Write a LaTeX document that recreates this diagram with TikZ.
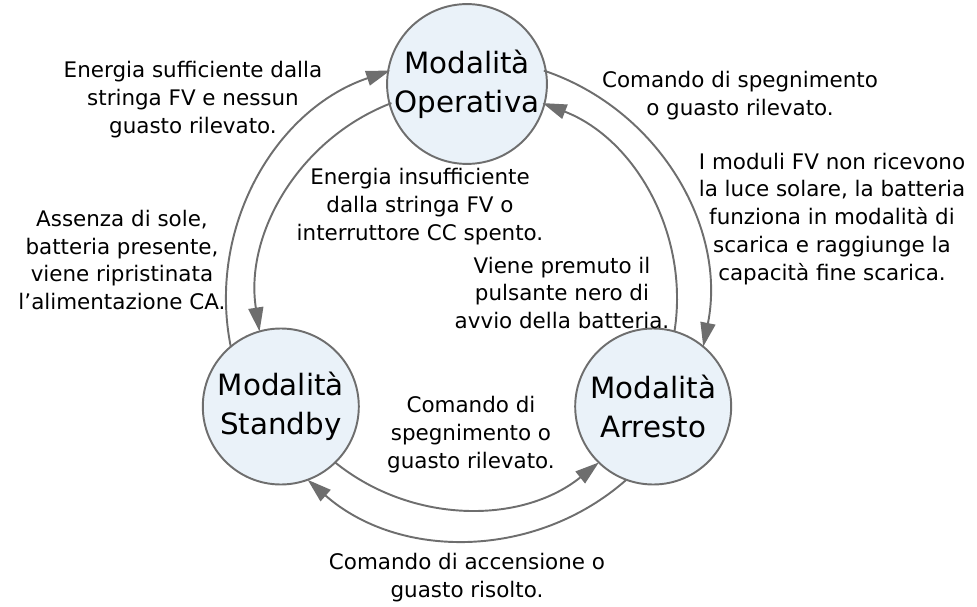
\documentclass[tikz,border=0pt]{standalone}
\usepackage{fontspec}
\setmainfont{DejaVu Sans}
\usetikzlibrary{arrows.meta}

\definecolor{kreisblau}{HTML}{EAF2F9}
\definecolor{liniengrau}{HTML}{6E6E6E}

\tikzset{
	modus/.style={circle, draw=liniengrau, line width=1.1pt, fill=kreisblau, minimum size=3.12cm, inner sep=0pt, align=center, font=\fontsize{16.7}{22}\selectfont},
	pfeil/.style={draw=liniengrau, line width=1.1pt, -{Triangle[length=0.48cm,width=0.3cm]}},
	hinweis/.style={align=center, inner sep=0pt, font=\fontsize{12.2}{15.9}\selectfont}
}

\begin{document}
\begin{tikzpicture}
	%Rahmen
	\useasboundingbox (-9.34,-6.14) rectangle (10.2,5.98);
	\coordinate (mitte) at (0,0);
	% Zustaende
	\node[modus] (oper) at (90:4.3) {Modalità\\Operativa};
	\node[modus] (stby) at (210:4.3) {Modalità\\Standby};
	\node[modus] (arre) at (330:4.3) {Modalità\\Arresto};
	% Pfeile aussen
	\draw[pfeil] ([shift={(191.4:4.82)}]mitte) arc[start angle=191.4, end angle=108.6, radius=4.82];
	\draw[pfeil] ([shift={(71.4:4.82)}]mitte) arc[start angle=71.4, end angle=-11.4, radius=4.82];
	\draw[pfeil] ([shift={(311.4:4.82)}]mitte) arc[start angle=311.4, end angle=228.6, radius=4.82];
	% Pfeile innen
	\draw[pfeil] ([shift={(111.1:4.2)}]mitte) arc[start angle=111.1, end angle=188.9, radius=4.2];
	\draw[pfeil] ([shift={(-8.9:4.2)}]mitte) arc[start angle=-8.9, end angle=68.9, radius=4.2];
	\draw[pfeil] ([shift={(231.1:4.2)}]mitte) arc[start angle=231.1, end angle=308.9, radius=4.2];
	% Beschriftungen
	\node[hinweis] (t1) at (-5.48,3.98) {Energia sufficiente dalla\\stringa FV e nessun\\guasto rilevato.};
	\node[hinweis] (t2) at (5.46,4.06) {Comando di spegnimento\\o guasto rilevato.};
	\node[hinweis] (t3) at (7.3,1.6) {I moduli FV non ricevono\\la luce solare, la batteria\\funziona in modalità di\\scarica e raggiunge la\\capacità fine scarica.};
	\node[hinweis] (t4) at (-0.94,1.84) {Energia insufficiente\\dalla stringa FV o\\interruttore CC spento.};
	\node[hinweis] (t5) at (1.9,0.12) {Viene premuto il\\pulsante nero di\\avvio della batteria.};
	\node[hinweis] (t6) at (-6.9,0.78) {Assenza di sole,\\batteria presente,\\viene ripristinata\\l'alimentazione CA.};
	\node[hinweis] (t7) at (0.08,-2.72) {Comando di\\spegnimento o\\guasto rilevato.};
	\node[hinweis] (t8) at (0,-5.58) {Comando di accensione o\\guasto risolto.};
\end{tikzpicture}
\end{document}
